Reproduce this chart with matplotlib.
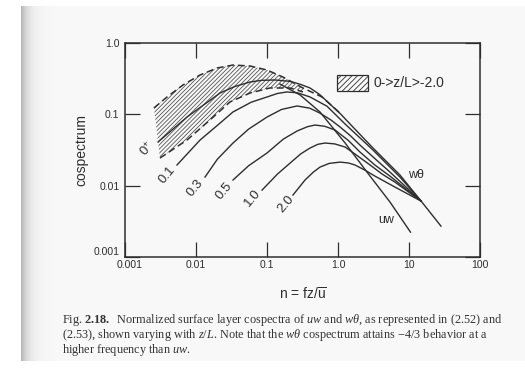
import numpy as np
import matplotlib
matplotlib.use("Agg")
import matplotlib.pyplot as plt
from matplotlib.patches import Rectangle, Polygon
from matplotlib.transforms import ScaledTranslation

# values (n = fz/u, cospectrum)
band_top_n = [0.00256, 0.00391, 0.00656, 0.0114, 0.0198, 0.0332, 0.0577, 0.1, 0.168, 0.321, 0.596, 1.07]
band_top_c = [0.123, 0.175, 0.258, 0.356, 0.446, 0.491, 0.476, 0.418, 0.333, 0.234, 0.175, 0.104]
band_bot_n = [0.00311, 0.00746, 0.0157, 0.0301, 0.0577, 0.110, 0.211, 0.321]
band_bot_c = [0.0244, 0.0436, 0.0832, 0.149, 0.199, 0.234, 0.234, 0.206]

zl_labels = [r"0$^{\mathsf{+}}$", "0.1", "0.3", "0.5", "1.0", "2.0"]
zl_n = [
    [0.00292, 0.00746, 0.0218, 0.035, 0.0577, 0.085, 0.13, 0.211, 0.3, 0.404, 0.55, 0.771,
     1.1, 1.48, 3.11, 7.46, 14.8, 28.2],
    [0.0054, 0.0114, 0.02, 0.0332, 0.06, 0.1, 0.14, 0.191, 0.27, 0.404, 0.7, 1.26, 3.11, 7.46, 14.8],
    [0.0134, 0.02, 0.0332, 0.055, 0.1, 0.16, 0.265, 0.4, 0.557, 0.8, 1.07, 1.5, 2.04, 3.3, 5.4, 14.8],
    [0.0332, 0.055, 0.1, 0.17, 0.265, 0.37, 0.474, 0.65, 0.908, 1.4, 2.04, 3.3, 5.4, 14.8],
    [0.0851, 0.14, 0.211, 0.3, 0.404, 0.52, 0.656, 0.9, 1.26, 1.9, 2.83, 4.2, 6.35, 14.8],
    [0.232, 0.343, 0.45, 0.557, 0.75, 1.07, 1.4, 1.73, 2.4, 3.32, 6.35, 14.8],
]
zl_c = [
    [0.0409, 0.0916, 0.199, 0.245, 0.284, 0.300, 0.303, 0.290, 0.262, 0.234, 0.19, 0.139,
     0.100, 0.0731, 0.0337, 0.0141, 0.00608, 0.00271],
    [0.0195, 0.0436, 0.07, 0.108, 0.148, 0.175, 0.196, 0.206, 0.200, 0.175, 0.13, 0.0731, 0.0316,
     0.0132, 0.00608],
    [0.0132, 0.0235, 0.0396, 0.062, 0.0916, 0.117, 0.131, 0.122, 0.104, 0.083, 0.0664, 0.050,
     0.0371, 0.024, 0.0155, 0.00608],
    [0.0120, 0.019, 0.0287, 0.045, 0.0583, 0.067, 0.0708, 0.068, 0.0603, 0.043, 0.0296, 0.0195,
     0.0136, 0.00608],
    [0.00867, 0.0145, 0.0207, 0.028, 0.0337, 0.038, 0.0396, 0.0385, 0.0348, 0.026, 0.0195, 0.0145,
     0.0112, 0.00608],
    [0.00738, 0.0120, 0.0155, 0.0182, 0.0205, 0.0214, 0.0208, 0.0195, 0.0165, 0.0136, 0.00955,
     0.00608],
]
uw_n = [0.152, 0.292, 0.557, 1.26, 2.56, 5.40, 10.5]
uw_c = [0.266, 0.187, 0.108, 0.0396, 0.0155, 0.00589, 0.00223]

decades = [0.001, 0.01, 0.1, 1, 10, 100]
x_ticklabels = ["0.001", "0.01", "0.1", "1.0", "10", "100"]
y_ticks = [0.001, 0.01, 0.1, 1]
y_ticklabels = ["0.001", "0.01", "0.1", "1.0"]

caption = [
    r"Fig. $\mathbf{2.18.}$  Normalized surface layer cospectra of $uw$ and $w\theta$, as represented in (2.52) and",
    r"(2.53), shown varying with $z/L$. Note that the $w\theta$ cospectrum attains $-$4/3 behavior at a",
    r"higher frequency than $uw$.",
]

plt.rcParams["font.family"] = ["Liberation Sans", "DejaVu Sans"]
plt.rcParams["mathtext.fontset"] = "custom"
plt.rcParams["mathtext.rm"] = "Liberation Serif"
plt.rcParams["mathtext.it"] = "Liberation Serif:italic"
plt.rcParams["mathtext.bf"] = "Liberation Serif:bold"
plt.rcParams["mathtext.sf"] = "Liberation Sans"
plt.rcParams["hatch.linewidth"] = 0.6

ink = "#2e2e2e"
W, H = 525, 369
fig = plt.figure(figsize=(W / 100, H / 100), dpi=100)
fig.patch.set_facecolor("white")

# scanned page background with the gutter shadow on the left
bg = fig.add_axes([0, 0, 1, 1], zorder=-5)
cols = np.arange(W)
shade = np.where(cols < 21, 1.0, 0.975 - 0.26 * np.exp(-(cols - 21) / 7.0))
img = np.tile(shade, (H, 1))
img[:6, :] = 1.0
img[361:, :] = 1.0
bg.imshow(np.dstack([img] * 3), aspect="auto", extent=[0, 1, 0, 1])
bg.set_axis_off()

ax = fig.add_axes([125 / W, 1 - 257 / H, 355 / W, 214 / H])
ax.set_facecolor("none")
ax.set_xscale("log")
ax.set_yscale("log")
ax.set_xlim(0.001, 100)
ax.set_ylim(0.001, 1)

# hatched unstable band
verts = list(zip(band_top_n[:10], band_top_c[:10])) + list(zip(band_bot_n[::-1], band_bot_c[::-1]))
ax.add_patch(Polygon(verts, closed=True, facecolor="none", edgecolor="#555555",
                     lw=0, hatch="////////"))
ax.plot(band_top_n, band_top_c, color=ink, lw=1.1, dashes=(4.5, 2.5))
ax.plot(band_bot_n, band_bot_c, color=ink, lw=1.1, dashes=(4.5, 2.5))

for n, c in zip(zl_n, zl_c):
    ax.plot(n, c, color=ink, lw=1.0)
ax.plot(uw_n, uw_c, color=ink, lw=1.0)

label_pos = [(0.00204, 0.0325), (0.00391, 0.0141), (0.00968, 0.00925),
             (0.0248, 0.0084), (0.0635, 0.0067), (0.185, 0.00552)]
for lab, (x, y) in zip(zl_labels, label_pos):
    ax.text(x, y, lab, rotation=50, rotation_mode="anchor", ha="center", va="center",
            fontsize=9.5, color=ink)
ax.text(12.6, 0.0141, "w\u03b8", fontsize=9, color=ink, ha="center", va="center")
ax.text(4.74, 0.0033, "uw", fontsize=9, color=ink, ha="center", va="center")

# legend drawn by hand
ax.add_patch(Rectangle((0.597, 0.776), 0.088, 0.074, transform=ax.transAxes,
                       facecolor="none", edgecolor=ink, lw=0.9, hatch="//////"))
ax.text(0.699, 0.813, "0->z/L>-2.0", transform=ax.transAxes, fontsize=10,
        color=ink, va="center", ha="left")

ax.set_xticks(decades)
ax.set_xticklabels(x_ticklabels)
ax.set_yticks(y_ticks)
ax.set_yticklabels(y_ticklabels)
ax.xaxis.set_minor_locator(matplotlib.ticker.NullLocator())
ax.yaxis.set_minor_locator(matplotlib.ticker.NullLocator())
ax.tick_params(which="major", direction="in", length=11, width=0.9, color=ink,
               top=True, right=True, labelsize=7.5, labelcolor=ink, pad=4)
ax.tick_params(axis="x", pad=2)
for s in ax.spines.values():
    s.set_linewidth(1.1)
    s.set_color(ink)

# nudge the corner labels apart as in the original
ax.get_yticklabels()[0].set_transform(ax.get_yticklabels()[0].get_transform()
                                      + ScaledTranslation(0, 4 / 72, fig.dpi_scale_trans))
ax.get_xticklabels()[0].set_transform(ax.get_xticklabels()[0].get_transform()
                                      + ScaledTranslation(3 / 72, 0, fig.dpi_scale_trans))

ax.set_ylabel("cospectrum", fontsize=10, color=ink, labelpad=4)
ax.set_xlabel(r"n = fz/$\overline{\mathsf{u}}$", fontsize=10, color=ink, labelpad=12)

for i, line in enumerate(caption):
    fig.text(62 / W, 1 - (320 + 15 * i) / H, line, fontsize=8.8, color="#333333",
             family="Liberation Serif", va="center", ha="left")

fig.savefig("out.png", dpi=100, facecolor=fig.get_facecolor())
